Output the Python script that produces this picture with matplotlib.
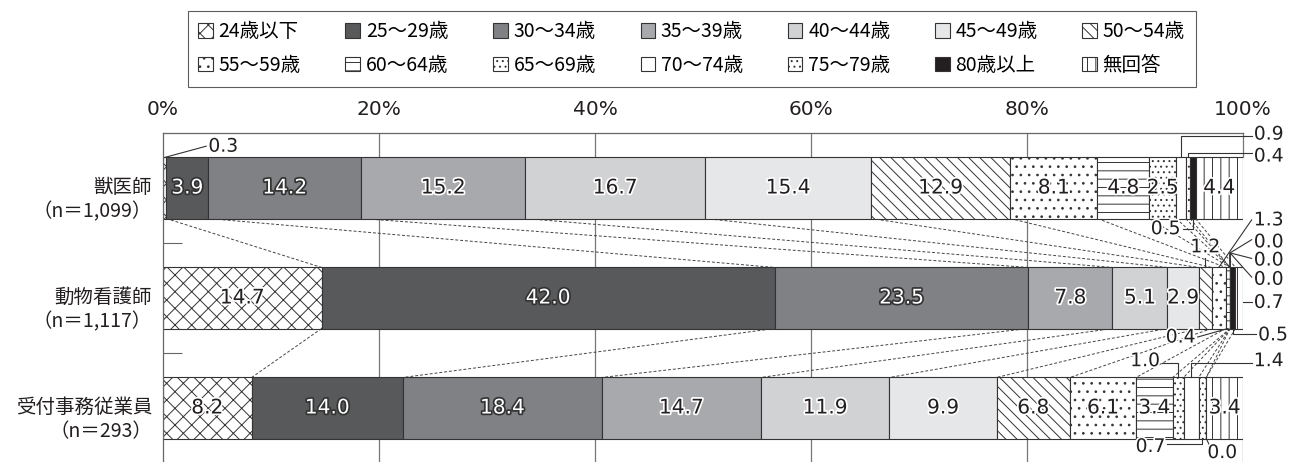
import numpy as np
import matplotlib
matplotlib.use('Agg')
import matplotlib.pyplot as plt
import matplotlib.patheffects as pe

plt.rcParams['font.family'] = ['Noto Sans CJK JP', 'DejaVu Sans']
plt.rcParams['hatch.color'] = '#333333'
plt.rcParams['hatch.linewidth'] = 0.7

# 年齢区分
cats = ['24歳以下', '25～29歳', '30～34歳', '35～39歳', '40～44歳', '45～49歳', '50～54歳',
        '55～59歳', '60～64歳', '65～69歳', '70～74歳', '75～79歳', '80歳以上', '無回答']
groups = ['獣医師', '動物看護師', '受付事務従業員']
n_labels = ['（n＝1,099）', '（n＝1,117）', '（n＝293）']

vet = [0.3, 3.9, 14.2, 15.2, 16.7, 15.4, 12.9, 8.1, 4.8, 2.5, 0.9, 0.4, 0.5, 4.4]
nurse = [14.7, 42.0, 23.5, 7.8, 5.1, 2.9, 1.2, 1.3, 0.4, 0.0, 0.0, 0.0, 0.5, 0.7]
recep = [8.2, 14.0, 18.4, 14.7, 11.9, 9.9, 6.8, 6.1, 3.4, 1.0, 1.4, 0.7, 0.0, 3.4]

fills = ['white', '#58595b', '#808184', '#a7a9ac', '#d1d2d4', '#e6e7e8', 'white',
         'white', 'white', 'white', 'white', 'white', '#231f20', 'white']
hatches = ['xx', None, None, None, None, None, '\\\\\\',
           '..', '--', '...', None, '...', None, '||']
dark = [1, 2]
num_font = ['DejaVu Sans']

vals = np.array([vet, nurse, recep])
widths = vals / vals.sum(axis=1, keepdims=True) * 100
cum = np.cumsum(widths, axis=1)
lefts = cum - widths
rows = np.arange(len(groups))
h = 0.555

fig = plt.figure(figsize=(12.95, 4.62), dpi=100)
ax = fig.add_axes([163 / 1295, 0, 1080 / 1295, 329 / 462])

for x in [20, 40, 60, 80]:
    ax.axvline(x, color='#777777', lw=0.9, zorder=0)
ax.plot([100, 100], [-0.5, -h / 2], color='#777777', lw=0.9, zorder=0, clip_on=False)
ax.plot([100, 100], [2 + h / 2, 2.6], color='#777777', lw=0.9, zorder=0)

handles = []
for j, c in enumerate(cats):
    b = ax.barh(rows, widths[:, j], left=lefts[:, j], height=h, color=fills[j],
                hatch=hatches[j], edgecolor='#333333', lw=0.8, zorder=2, label=c)
    handles.append(b)

# 棒の間の点線
for r in range(len(groups) - 1):
    for k in range(len(cats)):
        ax.plot([cum[r, k], cum[r + 1, k]], [r + h / 2, r + 1 - h / 2],
                color='#444444', lw=0.7, ls=(0, (3, 2)), zorder=1)

# 棒の中の数値
for r in rows:
    for j in range(len(cats)):
        v = vals[r, j]
        if v < 2.5:
            continue
        xc = lefts[r, j] + widths[r, j] / 2
        if j in dark:
            col, st = 'white', '#333333'
        else:
            col, st = '#231f20', 'white'
        ax.text(xc, r, '%.1f' % v, ha='center', va='center', fontsize=14.5, color=col,
                family=num_font, zorder=4,
                path_effects=[pe.withStroke(linewidth=2.5, foreground=st)])

# 小さい値の引き出し線
notes = [
    (0, 0, 'top', [(4.0, -0.38)], (4.2, -0.38), 'left'),
    (0, 10, 'top', [(None, -0.47), (100.8, -0.47)], (101.0, -0.49), 'left'),
    (0, 11, 'top', [(None, -0.32), (100.8, -0.32)], (101.0, -0.29), 'left'),
    (0, 12, 'bottom', [(None, 0.37), (94.4, 0.37)], (94.2, 0.37), 'right'),
    (1, 6, 'top', [(None, 0.64)], (None, 0.535), 'center'),
    (1, 7, 'top', [(100.8, 0.29)], (101.0, 0.29), 'left'),
    (1, 9, 'top', [(None, 0.59), (100.8, 0.47)], (101.0, 0.49), 'left'),
    (1, 10, 'top', [(None, 0.59), (100.8, 0.64)], (101.0, 0.655), 'left'),
    (1, 11, 'top', [(None, 0.59), (100.8, 0.81)], (101.0, 0.83), 'left'),
    (1, 13, 'right', [(100.8, 1.04)], (101.0, 1.04), 'left'),
    (1, 12, 'bottom', [(None, 1.33), (101.2, 1.33)], (101.4, 1.335), 'left'),
    (1, 8, 'bottom', [(95.8, 1.355)], (95.6, 1.355), 'right'),
    (2, 9, 'top', [(None, 1.59), (92.5, 1.59)], (92.3, 1.57), 'right'),
    (2, 10, 'top', [(None, 1.59), (100.8, 1.59)], (101.0, 1.57), 'left'),
    (2, 11, 'bottom', [(None, 2.33), (93.0, 2.33)], (92.8, 2.35), 'right'),
    (2, 12, 'bottom', [(96.9, 2.34)], (96.7, 2.405), 'left'),
]
for r, j, side, pts, txy, ha in notes:
    xa = lefts[r, j] + widths[r, j] / 2
    ya = r - h / 2 if side == 'top' else r + h / 2
    if side == 'right':
        xa, ya = 100, r + 0.04
    xs, ys = [xa], [ya]
    for px, py in pts:
        xs.append(xa if px is None else px)
        ys.append(py)
    ax.plot(xs, ys, color='#333333', lw=0.8, zorder=3, clip_on=False)
    tx = xa if txy[0] is None else txy[0]
    ax.text(tx, txy[1], '%.1f' % vals[r, j], ha=ha, va='center', fontsize=13.5,
            color='#231f20', family=num_font, zorder=4,
            path_effects=[pe.withStroke(linewidth=2.5, foreground='white')])

# 区分ラベル
for r in rows:
    ax.text(-1.0, r + 0.105, groups[r] + '\n' + n_labels[r], ha='right', va='center',
            fontsize=14, linespacing=1.2, color='#231f20')

ax.set_xlim(0, 100)
ax.set_ylim(2.491, -0.5)
ax.xaxis.tick_top()
ax.set_xticks(range(0, 101, 20))
ax.set_xticklabels(['%d%%' % v for v in range(0, 101, 20)], family=num_font)
ax.tick_params(axis='x', length=0, pad=10, labelsize=14.5, labelcolor='#231f20')
ax.set_yticks([0.5, 1.5])
ax.tick_params(axis='y', direction='in', length=14, color='#666666', labelleft=False)
for s in ['right', 'bottom']:
    ax.spines[s].set_visible(False)
for s in ['top', 'left']:
    ax.spines[s].set_color('#666666')
    ax.spines[s].set_linewidth(0.9)

# 凡例は行方向に並べる
ncol = 7
order = [i + k * ncol for i in range(ncol) for k in range(2)]
leg = fig.legend(handles=[handles[i] for i in order], labels=[cats[i] for i in order],
                 ncol=ncol, loc='upper center',
                 bbox_to_anchor=(0.534, 0.998), frameon=True, fancybox=False,
                 edgecolor='#333333', handlelength=0.75, handleheight=0.75,
                 handletextpad=0.3, columnspacing=2.3, labelspacing=0.65,
                 borderpad=0.55, fontsize=14)
leg.get_frame().set_linewidth(0.8)

plt.savefig('out.png', dpi=100)
plt.close()
